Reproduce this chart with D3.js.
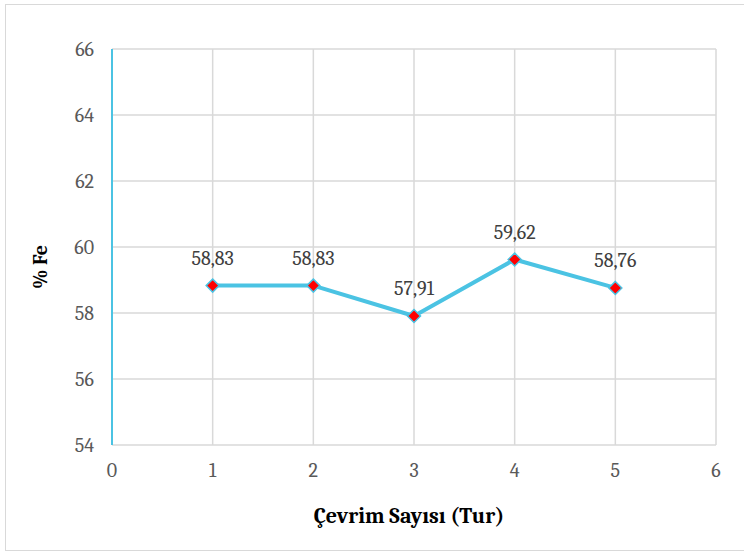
<!DOCTYPE html>
<html><head><meta charset="utf-8">
<script src="https://cdn.jsdelivr.net/npm/d3@7"></script>
<style>body{margin:0;background:#fff}</style>
</head><body>
<svg id="c" width="744" height="554"></svg>
<script>
const cycles = [1, 2, 3, 4, 5];
const feValues = [58.83, 58.83, 57.91, 59.62, 58.76];
const valueLabels = ["58,83", "58,83", "57,91", "59,62", "58,76"];
const xTicks = [0, 1, 2, 3, 4, 5, 6];
const yTicks = [54, 56, 58, 60, 62, 64, 66];

const svg = d3.select("#c");
const m = {l: 112, r: 716, t: 49, b: 445};
const x = d3.scaleLinear().domain([0, 6]).range([m.l, m.r]);
const y = d3.scaleLinear().domain([54, 66]).range([m.b, m.t]);
const serif = "Cambria, 'Liberation Serif', 'DejaVu Serif', serif";

// outer border
svg.append("rect").attr("x", 5.5).attr("y", 4.5).attr("width", 744).attr("height", 546)
  .attr("fill", "#fff").attr("stroke", "#d9d9d9").attr("stroke-width", 1);

// gridlines
svg.append("g").selectAll("line").data(yTicks).join("line")
  .attr("x1", m.l).attr("x2", m.r).attr("y1", d => y(d)).attr("y2", d => y(d))
  .attr("stroke", "#d9d9d9").attr("stroke-width", 1.5);
svg.append("g").selectAll("line").data(xTicks).join("line")
  .attr("x1", d => x(d)).attr("x2", d => x(d)).attr("y1", m.t).attr("y2", m.b)
  .attr("stroke", "#d9d9d9").attr("stroke-width", 1.5);

// y axis line (cyan)
svg.append("line").attr("x1", x(0)).attr("x2", x(0)).attr("y1", m.t).attr("y2", m.b)
  .attr("stroke", "#4bc3e3").attr("stroke-width", 2);

// tick labels
svg.append("g").selectAll("text").data(yTicks).join("text")
  .attr("x", 94).attr("y", d => y(d)).attr("dy", "0.35em").attr("text-anchor", "end")
  .attr("font-family", serif).attr("font-size", 20).attr("fill", "#595959").text(d => d);
svg.append("g").selectAll("text").data(xTicks).join("text")
  .attr("x", d => x(d)).attr("y", 470).attr("dy", "0.35em").attr("text-anchor", "middle")
  .attr("font-family", serif).attr("font-size", 20).attr("fill", "#595959").text(d => d);

// line
const pts = cycles.map((c, i) => [c, feValues[i]]);
svg.append("path").datum(pts)
  .attr("d", d3.line().x(d => x(d[0])).y(d => y(d[1])))
  .attr("fill", "none").attr("stroke", "#4bc3e3").attr("stroke-width", 4).attr("stroke-linejoin", "round");

// markers
svg.append("g").selectAll("path").data(pts).join("path")
  .attr("transform", d => `translate(${x(d[0])},${y(d[1])})`)
  .attr("d", "M0,-6.5L6.5,0L0,6.5L-6.5,0Z")
  .attr("fill", "#ff0000").attr("stroke", "#4bc3e3").attr("stroke-width", 1.5);

// data labels
svg.append("g").selectAll("text").data(pts).join("text")
  .attr("x", d => x(d[0])).attr("y", d => y(d[1]) - 28).attr("dy", "0.35em")
  .attr("text-anchor", "middle").attr("font-family", serif).attr("font-size", 20)
  .attr("fill", "#404040").text((d, i) => valueLabels[i]);

// axis titles
svg.append("text").attr("x", 409).attr("y", 515).attr("dy", "0.35em").attr("text-anchor", "middle")
  .attr("font-family", serif).attr("font-size", 22).attr("font-weight", "bold").attr("fill", "#000")
  .text("Çevrim Sayısı (Tur)");
svg.append("text").attr("transform", "translate(40,267) rotate(-90)").attr("dy", "0.35em")
  .attr("text-anchor", "middle").attr("font-family", serif).attr("font-size", 20)
  .attr("font-weight", "bold").attr("fill", "#000").text("% Fe");
</script>
</body></html>
